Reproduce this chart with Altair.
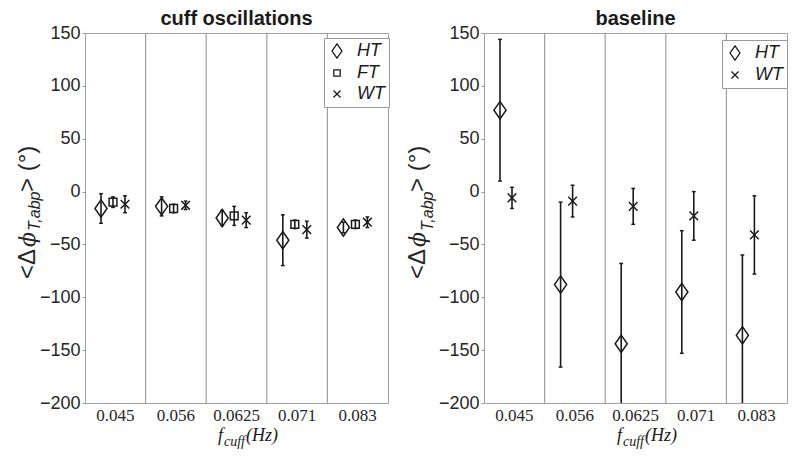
import altair as alt
import pandas as pd

# ---------------- data ----------------
categories = ["0.045", "0.056", "0.0625", "0.071", "0.083"]

cuff_ht_mean = [-16, -14, -25, -46, -34]
cuff_ht_err = [14, 9, 7, 24, 5]
cuff_ft_mean = [-10, -16, -23, -31, -31]
cuff_ft_err = [5, 4, 9, 4, 4]
cuff_wt_mean = [-12, -13, -27, -36, -29]
cuff_wt_err = [8, 4, 7, 8, 5]

base_ht_mean = [77, -88, -144, -95, -136]
base_ht_err = [67, 78, 76, 58, 76]
base_wt_mean = [-6, -9, -14, -23, -41]
base_wt_err = [10, 15, 17, 23, 37]

y_ticks = [150, 100, 50, 0, -50, -100, -150, -200]

# ---------------- styling ----------------
W, H = 303, 370
INK = "#1a1a1a"
LABEL = "#262626"
FRAME = "#a0a0a0"

DIAMOND = "M0,-1L0.7,0L0,1L-0.7,0Z"
SQUARE = "M-0.45,-0.45L0.45,-0.45L0.45,0.45L-0.45,0.45Z"
XSHAPE = "M-0.5,-0.5L0.5,0.5M-0.5,0.5L0.5,-0.5"
CAP = "M-1,0L1,0"


def frame(series):
    rows = []
    for name, means, errs in series:
        for c, m, e in zip(categories, means, errs):
            rows.append({"cat": c, "series": name, "mean": m, "lo": m - e, "hi": m + e})
    return pd.DataFrame(rows)


def panel(df, names, shapes, offset_range, title, legend_x, legend_y, ytitle_x, sub_dx):
    xscale = alt.Scale(domain=categories, paddingInner=0, paddingOuter=0)
    xaxis = alt.Axis(title=None, labelFont="Liberation Serif", labelFontSize=17,
                     labelColor=LABEL, ticks=False, domain=False, labelPadding=4,
                     labelAngle=0, grid=False)
    yscale = alt.Scale(domain=[-200, 150], nice=False, zero=False)
    yaxis = alt.Axis(title=None, values=y_ticks, grid=False, labelFont="Liberation Sans",
                     labelFontSize=18, labelColor=LABEL, tickSize=3, tickColor="#999999",
                     domain=False, labelPadding=2)
    x = alt.X("cat:N", scale=xscale, axis=xaxis, sort=None)
    xo = alt.XOffset("series:N", scale=alt.Scale(domain=names, range=offset_range,
                                                 paddingInner=0, paddingOuter=0))

    seps = alt.Chart(pd.DataFrame({"cat": categories[1:]})).mark_rule(
        color=FRAME, strokeWidth=1.2
    ).encode(x=alt.X("cat:N", scale=xscale, axis=xaxis, bandPosition=0, sort=None))

    base = alt.Chart(df)
    bars = base.mark_rule(color=INK, strokeWidth=1.6, clip=True).encode(
        x=x, xOffset=xo,
        y=alt.Y("lo:Q", scale=yscale, axis=yaxis), y2="hi:Q")
    cap_lo = base.mark_point(shape=CAP, size=14, strokeWidth=1.5, color=INK,
                             filled=False, opacity=1, clip=True).encode(
        x=x, xOffset=xo, y=alt.Y("lo:Q", scale=yscale, axis=yaxis))
    cap_hi = base.mark_point(shape=CAP, size=14, strokeWidth=1.5, color=INK,
                             filled=False, opacity=1, clip=True).encode(
        x=x, xOffset=xo, y=alt.Y("hi:Q", scale=yscale, axis=yaxis))
    pts = base.mark_point(size=300, strokeWidth=1.5, color=INK, filled=False,
                          opacity=1).encode(
        x=x, xOffset=xo,
        y=alt.Y("mean:Q", scale=yscale, axis=yaxis),
        shape=alt.Shape("series:N", scale=alt.Scale(domain=names, range=shapes),
                        legend=alt.Legend(title=None, orient="none", legendX=legend_x,
                                          legendY=legend_y, fillColor="white",
                                          strokeColor="#999999", padding=4,
                                          labelFont="Liberation Sans",
                                          labelFontStyle="italic", labelFontSize=18,
                                          labelColor=INK, symbolSize=200,
                                          symbolStrokeColor=INK, symbolStrokeWidth=1.3,
                                          labelOffset=11, rowPadding=3)))

    def txt(s, xv, yv, size, font="Liberation Sans", style="normal", angle=0,
            align="left", weight="normal", color=INK):
        return alt.Chart(pd.DataFrame({"t": [s]})).mark_text(
            font=font, fontSize=size, fontStyle=style, angle=angle, align=align,
            baseline="alphabetic", color=color, fontWeight=weight
        ).encode(x=alt.value(xv), y=alt.value(yv), text="t:N")

    # y-axis title  <Δϕ_{T,abp}> (°)
    yt = [
        txt("<Δ", ytitle_x, 246, 24, angle=270, color=LABEL),
        txt("ϕ", ytitle_x, 214, 22, font="DejaVu Serif", style="italic", angle=270,
            color=LABEL),
        txt("T,abp", ytitle_x + sub_dx, 198, 16, style="italic", angle=270, color=LABEL),
        txt("> (°)", ytitle_x, 159, 24, angle=270, color=LABEL),
    ]
    # x-axis title  f_cuff(Hz)
    xt = [
        txt("f", 133, 408, 18, font="Liberation Serif", style="italic"),
        txt("cuff", 139, 413, 14, font="Liberation Serif", style="italic"),
        txt("(Hz)", 161, 408, 18, font="Liberation Serif", style="italic"),
    ]
    head = txt(title, W / 2, -8, 20, align="center", weight="bold")

    return alt.layer(seps, bars, cap_lo, cap_hi, pts, *yt, *xt, head).properties(
        width=W, height=H)


left_df = frame([("HT", cuff_ht_mean, cuff_ht_err),
                 ("FT", cuff_ft_mean, cuff_ft_err),
                 ("WT", cuff_wt_mean, cuff_wt_err)])
right_df = frame([("HT", base_ht_mean, base_ht_err),
                  ("WT", base_wt_mean, base_wt_err)])

left = panel(left_df, ["HT", "FT", "WT"], [DIAMOND, SQUARE, XSHAPE], [10, 46],
             "cuff oscillations", 239, 5, -50, 5)
right = panel(right_df, ["HT", "WT"], [DIAMOND, XSHAPE], [10, 34],
              "baseline", 238, 7, -59, 8)

chart = alt.hconcat(left, right, spacing=15).resolve_scale(
    x="independent", y="independent", shape="independent", xOffset="independent"
).resolve_legend(shape="independent").properties(
    padding={"left": 7, "top": 0, "right": 0, "bottom": 0},
    background="white",
).configure_view(stroke=FRAME, strokeWidth=1)

chart.save("out.html", embed_options={"renderer": "svg", "actions": False})
